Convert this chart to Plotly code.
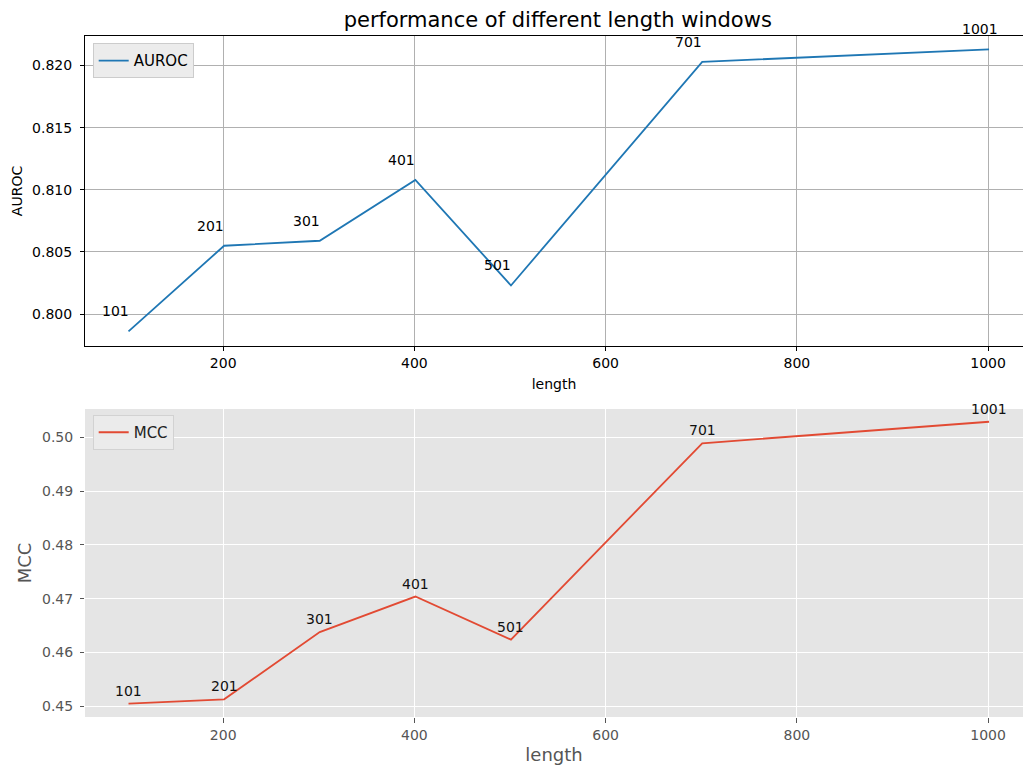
import plotly.graph_objects as go

# window lengths and scores
window_len = [101, 201, 301, 401, 501, 701, 1001]
auroc = [0.7986, 0.8055, 0.8059, 0.8108, 0.8023, 0.8203, 0.8213]
mcc = [0.4505, 0.4513, 0.4638, 0.4704, 0.4624, 0.4989, 0.5029]

x_ticks = [200, 400, 600, 800, 1000]
auroc_ticks = [0.800, 0.805, 0.810, 0.815, 0.820]
mcc_ticks = [0.45, 0.46, 0.47, 0.48, 0.49, 0.50]

FONT = "DejaVu Sans"
BLUE = "#1f77b4"
RED = "#E24A33"
GG_TEXT = "#555555"

fig = go.Figure()

fig.add_trace(go.Scatter(
    x=window_len, y=auroc, mode="lines", name="AUROC", showlegend=True,
    line=dict(color=BLUE, width=1.8), xaxis="x", yaxis="y", legend="legend",
))
fig.add_trace(go.Scatter(
    x=window_len, y=mcc, mode="lines", name="MCC", showlegend=True,
    line=dict(color=RED, width=1.8), xaxis="x2", yaxis="y2", legend="legend2",
))

# point labels: upper-left for the AUROC panel, centred above for MCC
annotations = []
for xv, yv in zip(window_len, auroc):
    annotations.append(dict(
        x=xv, y=yv, xref="x", yref="y", text=str(xv), showarrow=False,
        xanchor="left", yanchor="bottom", xshift=-29, yshift=10,
        font=dict(family=FONT, size=14, color="black"),
    ))
for xv, yv in zip(window_len, mcc):
    annotations.append(dict(
        x=xv, y=yv, xref="x2", yref="y2", text=str(xv), showarrow=False,
        xanchor="center", yanchor="bottom", yshift=3,
        font=dict(family=FONT, size=14, color="#111111"),
    ))

x_range = [55.5, 1036.5]

fig.update_layout(
    width=1023, height=765,
    margin=dict(l=85, r=0, t=36, b=48),
    paper_bgcolor="white", plot_bgcolor="white",
    showlegend=True,
    font=dict(family=FONT, size=14, color="black"),
    title=dict(
        text="performance of different length windows",
        x=0.504, xref="paper", xanchor="center",
        y=1 - 20 / 765, yref="container", yanchor="middle",
        font=dict(family=FONT, size=21, color="black"),
    ),
    xaxis=dict(
        domain=[0, 1], anchor="y", range=x_range,
        tickvals=x_ticks, ticks="outside", ticklen=4, tickcolor="black",
        showline=True, linecolor="black", linewidth=1, mirror=True,
        showgrid=True, gridcolor="#b0b0b0", gridwidth=1, zeroline=False,
        tickfont=dict(family=FONT, size=14, color="black"),
        title=dict(text="length", standoff=9, font=dict(family=FONT, size=14, color="black")),
        automargin=False,
    ),
    yaxis=dict(
        domain=[0.5448, 1], anchor="x", range=[0.79743, 0.82238],
        tickvals=auroc_ticks, tickformat=".3f", ticks="outside", ticklen=4, tickcolor="black",
        ticklabelstandoff=5,
        showline=True, linecolor="black", linewidth=1, mirror=False,
        showgrid=True, gridcolor="#b0b0b0", gridwidth=1, zeroline=False,
        tickfont=dict(family=FONT, size=14, color="black"),
        title=dict(text="AUROC", standoff=6, font=dict(family=FONT, size=14, color="black")),
        automargin=False,
    ),
    xaxis2=dict(
        domain=[0, 1], anchor="y2", range=x_range,
        tickvals=x_ticks, ticks="outside", ticklen=5, tickcolor=GG_TEXT,
        showline=False, showgrid=True, gridcolor="white", gridwidth=1.2, zeroline=False,
        tickfont=dict(family=FONT, size=14, color=GG_TEXT),
        title=dict(text="length", standoff=6, font=dict(family=FONT, size=18, color=GG_TEXT)),
        automargin=False,
    ),
    yaxis2=dict(
        domain=[0, 0.4523], anchor="x2", range=[0.44801, 0.50527],
        tickvals=mcc_ticks, tickformat=".2f", ticks="outside", ticklen=4, tickcolor=GG_TEXT,
        ticklabelstandoff=4,
        showline=False, showgrid=True, gridcolor="white", gridwidth=1.2, zeroline=False,
        tickfont=dict(family=FONT, size=14, color=GG_TEXT),
        title=dict(text="MCC", standoff=5, font=dict(family=FONT, size=18, color=GG_TEXT)),
        automargin=False,
    ),
    legend=dict(
        x=0.0082, y=0.9893, xanchor="left", yanchor="top",
        bgcolor="#ececec", bordercolor="#cccccc", borderwidth=1,
        font=dict(family=FONT, size=15, color="black"),
    ),
    legend2=dict(
        x=0.0082, y=0.4435, xanchor="left", yanchor="top",
        bgcolor="#ebebeb", bordercolor="#d2d2d2", borderwidth=1,
        font=dict(family=FONT, size=15, color="#222222"),
    ),
    annotations=annotations,
    shapes=[dict(
        type="rect", xref="x2 domain", yref="y2 domain",
        x0=0, x1=1, y0=0, y1=1, fillcolor="#E5E5E5",
        line=dict(width=0), layer="below",
    )],
)

fig.write_html("out.html")
